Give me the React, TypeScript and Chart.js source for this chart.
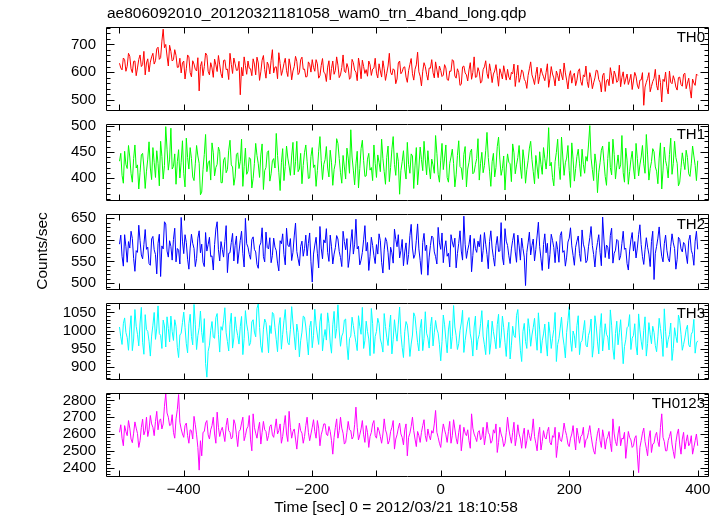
import React, { useEffect, useRef } from 'react';
import { Chart, registerables } from 'chart.js';
Chart.register(...registerables);

const TITLE = 'ae806092010_20120321181058_wam0_trn_4band_long.qdp';
const X_TITLE = 'Time [sec] 0 = 2012/03/21 18:10:58';
const Y_TITLE = 'Counts/sec';

const T_START = -500;
const T_END = 400;
const X_MIN = -521;
const X_MAX = 416;
const X_TICK_MARKS = [-500, -400, -300, -200, -100, 0, 100, 200, 300, 400];
const X_TICK_LABELS = [-400, -200, 0, 200, 400];

const TH0 = [
  632, 615, 608, 651, 645, 603, 621, 668, 657, 612, 598, 639, 640, 587, 615, 646, 662, 620, 627, 675, 590, 633, 648, 601, 636, 655,
  668, 629, 641, 684, 690, 646, 652, 712, 755, 688, 700, 658, 622, 697, 675, 640, 645, 681, 660, 617,
  618, 650, 597, 633, 640, 575, 612, 662, 655, 598, 583, 641, 629, 610, 604, 652, 532, 621, 638, 587, 620, 669, 661, 603, 590, 634, 615, 581, 647, 626,
  602, 660, 626, 594, 579, 642, 644, 609, 611, 573, 668, 628, 595, 651, 630, 606, 607, 639, 518, 617, 586, 655, 623, 592, 640, 614,
  612, 587, 648, 629, 590, 654, 633, 570, 601, 643, 660, 609, 578, 636, 625, 593, 642, 681, 597, 618, 619, 576, 670, 631, 588, 607, 631, 650, 605, 584,
  648, 622, 572, 604, 620, 657, 639, 591, 598, 645, 654, 610, 611, 582, 584, 637, 628, 600, 645, 617,
  603, 645, 630, 578, 587, 624, 649, 599, 595, 566, 618, 641, 572, 613, 640, 592, 606, 655, 625, 580, 590, 617, 662, 603, 598, 631, 615, 574, 581, 646,
  634, 607, 600, 569, 651, 622, 576, 643, 620, 595, 609, 585, 640, 627, 588, 611, 614, 650, 596, 579,
  630, 604, 582, 641, 612, 570, 596, 622, 668, 599, 590, 612, 607, 558, 575, 633, 640, 594, 601, 617, 619, 582, 563, 605, 628, 649, 594, 571, 610, 626,
  672, 601, 585, 550, 603, 634, 620, 592, 571, 615, 614, 645, 598, 579, 637, 608, 580, 622, 606, 584,
  589, 627, 615, 573, 570, 604, 603, 645, 640, 586, 578, 612, 598, 552, 556, 619, 622, 597, 590, 568, 608, 634, 574, 599, 655, 581, 583, 616, 601, 560,
  567, 609, 619, 641, 595, 577, 630, 602, 562, 593, 604, 627, 588, 549, 612, 596, 575, 623, 597, 571,
  610, 582, 572, 599, 594, 629, 548, 587, 625, 563, 580, 608, 601, 574, 566, 541, 588, 612, 637, 590, 575, 555, 592, 618, 558, 583, 614, 596, 583, 569,
  599, 630, 545, 577, 620, 593, 579, 550, 604, 588, 568, 611, 590, 572, 633, 597, 571, 539, 586, 605,
  560, 587, 596, 551, 571, 603, 612, 566, 552, 590, 583, 622, 566, 544, 598, 579, 540, 561, 579, 607, 605, 573, 563, 528, 588, 596, 530, 570, 574, 551,
  616, 589, 558, 604, 590, 563, 569, 625, 547, 581, 601, 556, 575, 593, 555, 571, 592, 537, 568, 599,
  585, 553, 540, 571, 572, 598, 480, 546, 563, 577, 598, 529, 548, 566, 577, 610, 552, 535, 590, 562, 492, 574, 566, 600, 545, 521, 604, 563, 558, 587,
  571, 546, 535, 580, 582, 555, 549, 592, 596, 540, 560, 578, 538, 506, 575, 561, 552, 593, 588,
];

const TH1 = [
  432, 447, 405, 390, 451, 426, 418, 462, 440, 408, 392, 437, 463, 419, 425, 379, 410, 444, 447, 421, 380, 413, 436, 469, 419, 397, 458, 430, 401, 452, 428, 385, 470, 441, 398, 424, 498, 455, 415, 436,
  495, 417, 422, 446, 388, 431, 454, 400, 430, 471, 409, 383, 476, 439, 417, 458, 437, 402, 395, 427, 462, 442, 428, 368, 373, 416, 445, 483, 412, 429, 433, 396, 467, 448, 404, 420, 426, 459, 450, 391,
  391, 434, 439, 410, 416, 453, 472, 425, 421, 386, 402, 445, 448, 418, 431, 474, 384, 422, 457, 407, 413, 439, 436, 381, 399, 428, 466, 443, 427, 401, 444, 465, 378, 414, 420, 449, 452, 394, 408, 433,
  437, 419, 485, 443, 411, 376, 429, 456, 395, 422, 461, 438, 423, 405, 442, 468, 406, 431, 470, 412, 417, 447, 389, 424, 449, 463, 432, 399, 400, 441, 458, 420, 425, 384, 414, 451, 479, 433, 397, 426,
  435, 460, 419, 402, 453, 429, 386, 416, 428, 475, 466, 437, 410, 390, 443, 421, 398, 457, 438, 409, 492, 440, 415, 387, 427, 451, 381, 418, 456, 472, 433, 403, 404, 436, 447, 415, 420, 395, 463, 428,
  401, 444, 430, 412, 474, 437, 412, 388, 439, 461, 393, 420, 455, 479, 426, 405, 448, 432, 369, 414, 431, 452, 417, 398, 468, 426, 409, 446, 442, 380, 423, 458, 387, 419, 459, 435, 414, 470, 436, 406,
  452, 421, 398, 436, 425, 409, 481, 447, 407, 392, 434, 466, 416, 438, 463, 401, 392, 428, 440, 455, 428, 383, 406, 443, 471, 422, 419, 397, 445, 460, 383, 417, 430, 449, 455, 408, 411, 426, 437, 475,
  396, 428, 449, 410, 424, 452, 487, 439, 413, 384, 431, 447, 402, 420, 460, 478, 436, 405, 418, 442, 377, 419, 446, 430, 427, 393, 465, 448, 408, 425, 439, 462, 421, 399, 454, 434, 390, 416, 433, 457,
  470, 435, 412, 389, 443, 421, 399, 450, 426, 407, 458, 437, 417, 444, 496, 423, 430, 401, 385, 431, 449, 474, 422, 397, 478, 440, 405, 429, 438, 462, 414, 382, 467, 436, 394, 418, 441, 455, 427, 403,
  455, 426, 409, 441, 432, 463, 500, 438, 416, 395, 446, 427, 372, 411, 429, 453, 461, 432, 403, 386, 437, 469, 420, 406, 474, 445, 398, 423, 444, 417, 425, 481, 410, 392, 457, 434, 388, 412, 435, 451,
  419, 398, 466, 437, 404, 425, 440, 462, 427, 409, 483, 444, 396, 418, 431, 456, 450, 421, 413, 389, 438, 467, 379, 415, 459, 433, 422, 400, 445, 476, 407, 428, 470, 439, 428, 385, 392, 420, 448, 431,
  416, 453, 439, 408, 403, 427, 461, 442, 424, 395, 433,
];

const TH2 = [
  590, 611, 562, 539, 612, 584, 548, 596, 581, 620, 603, 557, 527, 575, 571, 634, 598, 565, 556, 589, 624, 578, 583, 545, 541, 602, 608, 577, 566, 521, 592, 613, 515, 586, 579, 642, 637, 574, 560, 598,
  585, 553, 601, 627, 549, 580, 576, 544, 652, 597, 568, 612, 594, 555, 532, 581, 613, 592, 580, 538, 557, 604, 621, 570, 590, 548, 538, 617, 574, 589, 606, 561, 563, 530, 589, 625, 642, 577, 551, 596,
  578, 560, 596, 633, 524, 569, 570, 594, 615, 551, 587, 609, 545, 572, 599, 620, 568, 537, 650, 591, 583, 566, 555, 601, 607, 578, 572, 543, 534, 586, 593, 628, 561, 549, 618, 582, 579, 605, 547, 564,
  604, 583, 575, 546, 528, 598, 591, 614, 566, 542, 627, 588, 584, 603, 552, 571, 609, 639, 573, 556, 540, 585, 597, 562, 580, 611, 563, 592, 616, 549, 502, 567, 588, 606, 569, 535, 631, 581, 556, 600,
  593, 626, 571, 550, 611, 584, 544, 567, 582, 610, 602, 573, 559, 538, 620, 596, 577, 603, 536, 558, 595, 624, 567, 590, 648, 579, 585, 542, 553, 571, 600, 633, 574, 594, 529, 562, 606, 587, 563, 545,
  589, 567, 614, 598, 548, 523, 577, 605, 596, 570, 531, 583, 570, 546, 625, 601, 584, 612, 558, 575, 601, 540, 572, 593, 543, 566, 610, 636, 581, 557, 566, 599, 637, 579, 552, 520, 594, 615, 575, 588,
  518, 560, 587, 609, 605, 572, 561, 544, 629, 593, 578, 616, 547, 581, 598, 562, 569, 537, 612, 595, 583, 604, 535, 568, 592, 621, 574, 553, 655, 590, 557, 576, 590, 611, 526, 564, 603, 580, 571, 597,
  584, 612, 549, 575, 617, 590, 566, 533, 596, 621, 581, 559, 539, 587, 608, 573, 574, 640, 560, 542, 626, 597, 587, 563, 545, 579, 599, 615, 572, 548, 611, 586, 553, 604, 580, 560, 494, 571, 593, 618,
  565, 587, 602, 551, 578, 609, 641, 584, 556, 529, 589, 614, 570, 592, 533, 566, 613, 599, 582, 547, 596, 577, 548, 610, 619, 571, 575, 539, 560, 595, 604, 628, 586, 564, 541, 583, 597, 609, 568, 550,
  623, 590, 579, 547, 552, 584, 605, 631, 587, 566, 537, 575, 594, 612, 571, 540, 653, 602, 559, 588, 583, 556, 610, 627, 546, 569, 576, 601, 598, 553, 563, 592, 620, 578, 581, 545, 530, 574, 600, 617,
  574, 596, 558, 581, 612, 635, 589, 561, 543, 577, 605, 583, 567, 538, 596, 620, 508, 569, 585, 604, 630, 588, 562, 549, 591, 611, 576, 557, 549, 585, 614, 593, 580, 532, 555, 606, 601, 579, 572, 594,
  589, 565, 545, 598, 611, 576, 566, 541, 597, 620, 578,
];

const TH3 = [
  1010, 983, 962, 1019, 1035, 995, 981, 946, 1002, 1041, 945, 977, 1058, 1012, 990, 958, 1021, 1064, 968, 935, 1044, 1003, 998, 971, 930, 985, 1015, 1050, 976, 1007, 1068, 992, 987, 951, 1029, 1013, 955, 1038, 1006, 969,
  1040, 997, 973, 1030, 1012, 954, 926, 988, 993, 1022, 1051, 1009, 964, 939, 1019, 1045, 984, 961, 1072, 1016, 948, 986, 1008, 1054, 995, 967, 1033, 910, 872, 943, 960, 1001, 1025, 982, 979, 1036, 1047, 990, 941, 1011,
  1001, 1027, 1063, 994, 970, 944, 1017, 1048, 952, 980, 1038, 1005, 986, 963, 1011, 1039, 934, 978, 1055, 1018, 997, 959, 967, 1024, 1030, 996, 983, 1061, 1074, 1009, 958, 940, 1004, 1032, 1022, 985, 939, 1014, 992, 1050,
  1045, 1008, 975, 942, 1013, 1036, 949, 990, 1027, 1058, 1000, 967, 961, 1003, 1066, 1021, 985, 947, 1018, 995, 928, 972, 996, 1040, 1037, 1010, 971, 933, 1009, 1026, 953, 987, 1059, 1015, 988, 962, 1024, 1047, 944, 981,
  1003, 974, 1049, 1020, 966, 938, 1016, 1053, 979, 1006, 1071, 999, 957, 985, 994, 1029, 1032, 960, 920, 978, 985, 1037, 1014, 989, 968, 945, 1041, 1012, 990, 1064, 951, 973, 1026, 998, 977, 931, 1061, 1019, 937, 984,
  998, 1034, 1020, 977, 963, 941, 1047, 1011, 982, 959, 1008, 1043, 936, 975, 1030, 996, 971, 1018, 1065, 990, 954, 926, 997, 1025, 1015, 980, 929, 963, 988, 1049, 1039, 1001, 967, 944, 1006, 1031, 945, 978, 1052, 993,
  980, 952, 1011, 1037, 958, 994, 1028, 1004, 993, 961, 917, 970, 1043, 1016, 975, 939, 1002, 1027, 950, 984, 1069, 1010, 986, 948, 964, 1000, 1021, 1056, 940, 973, 999, 1024, 1036, 991, 972, 930, 1010, 1040, 947, 976,
  989, 1019, 1055, 985, 961, 934, 1004, 1029, 935, 966, 1026, 997, 976, 950, 1017, 1045, 953, 982, 1040, 1008, 968, 929, 994, 1023, 922, 960, 1012, 987, 981, 1042, 1058, 996, 946, 915, 998, 1020, 970, 951, 1033, 1005,
  957, 988, 1009, 1034, 983, 946, 1049, 1002, 938, 972, 991, 1018, 966, 930, 1024, 993, 951, 979, 1003, 1050, 915, 962, 978, 1007, 1037, 985, 960, 925, 995, 1028, 1066, 974, 943, 999, 986, 953, 1014, 1041, 934, 968,
  973, 1001, 1028, 960, 955, 987, 999, 1032, 927, 958, 1041, 1013, 969, 936, 1006, 1047, 944, 980, 1019, 990, 982, 947, 1057, 1015, 950, 921, 992, 1026, 961, 994, 1030, 971, 909, 956, 975, 1008, 1012, 1044, 948, 979,
  987, 1019, 958, 933, 1046, 1002, 971, 948, 1001, 1038, 930, 965, 1022, 990, 964, 1012, 995, 959, 942, 983, 1034, 1006, 976, 929, 1060, 997, 953, 975, 989, 1021, 918, 951, 1008, 984, 967, 1043, 1027, 990, 946, 962,
  980, 1003, 1015, 961, 955, 990, 997, 1031, 938, 966, 972,
];

const TH0123 = [
  2610, 2655, 2575, 2530, 2650, 2615, 2590, 2680, 2635, 2570, 2548, 2605, 2672, 2635, 2603, 2520, 2560, 2640, 2688, 2595, 2620, 2700, 2585, 2625, 2710, 2660, 2640, 2590, 2675, 2735, 2625, 2680, 2690, 2630, 2660, 2765, 2840, 2725, 2700, 2650,
  2655, 2715, 2610, 2575, 2690, 2745, 2835, 2670, 2630, 2600, 2580, 2650, 2665, 2590, 2545, 2625, 2620, 2570, 2705, 2655, 2595, 2520, 2385, 2560, 2470, 2610, 2615, 2665, 2680, 2595, 2570, 2625, 2650, 2700, 2600, 2545, 2730, 2640, 2585, 2620,
  2640, 2600, 2555, 2650, 2695, 2620, 2610, 2570, 2580, 2685, 2660, 2595, 2525, 2615, 2625, 2665, 2700, 2560, 2590, 2630, 2645, 2710, 2565, 2500, 2720, 2640, 2605, 2575, 2630, 2670, 2540, 2610, 2675, 2625, 2615, 2560, 2590, 2645, 2655, 2595,
  2580, 2635, 2690, 2600, 2620, 2660, 2545, 2585, 2650, 2710, 2600, 2555, 2735, 2640, 2575, 2615, 2630, 2570, 2510, 2595, 2665, 2620, 2605, 2545, 2585, 2650, 2700, 2610, 2560, 2600, 2640, 2685, 2615, 2575, 2680, 2635, 2530, 2595, 2625, 2660,
  2660, 2600, 2590, 2645, 2615, 2560, 2480, 2580, 2640, 2690, 2575, 2620, 2700, 2635, 2605, 2540, 2550, 2610, 2675, 2625, 2620, 2570, 2585, 2655, 2760, 2640, 2565, 2595, 2630, 2680, 2595, 2550, 2650, 2610, 2520, 2585, 2610, 2660, 2680, 2590,
  2575, 2640, 2620, 2585, 2545, 2600, 2690, 2625, 2600, 2540, 2560, 2615, 2640, 2680, 2510, 2570, 2595, 2635, 2665, 2600, 2580, 2535, 2625, 2660, 2470, 2580, 2605, 2645, 2700, 2620, 2570, 2525, 2615, 2590, 2550, 2610, 2650, 2685, 2590, 2555,
  2630, 2590, 2565, 2620, 2605, 2660, 2740, 2610, 2580, 2545, 2520, 2600, 2660, 2625, 2595, 2550, 2615, 2675, 2545, 2590, 2685, 2630, 2575, 2540, 2610, 2655, 2500, 2570, 2640, 2605, 2590, 2625, 2560, 2515, 2720, 2635, 2600, 2580, 2555, 2610,
  2620, 2565, 2580, 2640, 2535, 2590, 2670, 2610, 2595, 2545, 2560, 2625, 2605, 2660, 2490, 2550, 2640, 2600, 2575, 2525, 2545, 2610, 2700, 2630, 2585, 2545, 2610, 2670, 2530, 2580, 2655, 2600, 2570, 2515, 2595, 2635, 2515, 2560, 2625, 2590,
  2560, 2610, 2690, 2585, 2545, 2500, 2595, 2640, 2505, 2555, 2620, 2580, 2570, 2615, 2640, 2550, 2535, 2590, 2580, 2640, 2460, 2530, 2610, 2565, 2555, 2600, 2665, 2620, 2590, 2540, 2525, 2575, 2600, 2650, 2570, 2505, 2635, 2590, 2545, 2585,
  2595, 2640, 2520, 2565, 2575, 2610, 2650, 2590, 2540, 2500, 2480, 2555, 2605, 2635, 2560, 2520, 2625, 2580, 2510, 2565, 2585, 2615, 2545, 2495, 2690, 2600, 2555, 2530, 2600, 2645, 2530, 2575, 2570, 2610, 2455, 2535, 2615, 2580, 2565, 2520,
  2530, 2575, 2590, 2480, 2370, 2520, 2560, 2605, 2635, 2555, 2515, 2470, 2575, 2620, 2490, 2540, 2545, 2590, 2610, 2555, 2525, 2640, 2720, 2580, 2555, 2500, 2500, 2560, 2585, 2615, 2540, 2495, 2455, 2550, 2600, 2630, 2535, 2480, 2570, 2610,
  2510, 2555, 2595, 2530, 2545, 2590, 2480, 2520, 2560, 2600, 2530,
];

const SERIES = [TH0, TH1, TH2, TH3, TH0123];
const PANEL_NAMES = ['TH0', 'TH1', 'TH2', 'TH3', 'TH0123'];
const PANEL_COLORS = ['#ff0000', '#00ff00', '#0000ff', '#00ffff', '#ff00ff'];
const PANEL_MIN = [463, 358, 486, 867, 2350];
const PANEL_MAX = [763, 503, 660, 1076, 2844];
const PANEL_LABELS = [
  [500, 600, 700],
  [400, 450, 500],
  [500, 550, 600, 650],
  [900, 950, 1000, 1050],
  [2400, 2500, 2600, 2700, 2800],
];
const PANEL_MINOR = [20, 10, 10, 10, 20];

// layout (pixels)
const W = 724;
const H = 516;
const PLOT_L = 106;
const PLOT_R = 708;
const BOUNDS = [27, 117, 207, 296, 386, 476];
const PAD = 12;
const FONT = "'Liberation Sans', Arial, Helvetica, sans-serif";

function fmt(v: number): string {
  return v < 0 ? '\u2212' + Math.abs(v) : String(v);
}

function geom(i: number) {
  const top = i === 0 ? 0 : BOUNDS[i] - PAD;
  const bottom = i === 4 ? H : BOUNDS[i + 1] + PAD;
  return {
    top,
    h: bottom - top,
    padTop: BOUNDS[i] - top,
    padBottom: i === 4 ? 0 : bottom - BOUNDS[i + 1],
  };
}

function framePlugin(i: number, canvasTop: number) {
  return {
    id: 'frame' + i,
    afterDraw(chart: any) {
      const { ctx, chartArea: a, scales } = chart;
      const xs = scales.x;
      const ys = scales.y;
      const L = Math.round(a.left) + 0.5;
      const R = Math.round(a.right) + 0.5;
      const T = Math.round(a.top) + 0.5;
      const B = Math.round(a.bottom) + 0.5;
      ctx.save();
      ctx.strokeStyle = '#000';
      ctx.lineWidth = 1;
      ctx.beginPath();
      ctx.rect(L, T, R - L, B - T);
      X_TICK_MARKS.forEach((v) => {
        const px = Math.round(xs.getPixelForValue(v)) + 0.5;
        ctx.moveTo(px, T);
        ctx.lineTo(px, T + 6);
        ctx.moveTo(px, B);
        ctx.lineTo(px, B - 6);
      });
      const minor = PANEL_MINOR[i];
      const majors = PANEL_LABELS[i];
      for (let v = Math.ceil(PANEL_MIN[i] / minor) * minor; v <= PANEL_MAX[i]; v += minor) {
        const py = Math.round(ys.getPixelForValue(v)) + 0.5;
        const len = majors.includes(v) ? 8 : 4;
        ctx.moveTo(L, py);
        ctx.lineTo(L + len, py);
        ctx.moveTo(R, py);
        ctx.lineTo(R - len, py);
      }
      ctx.stroke();

      ctx.fillStyle = '#000';
      ctx.font = `15px ${FONT}`;
      ctx.textAlign = 'right';
      ctx.textBaseline = 'middle';
      ctx.fillText(PANEL_NAMES[i], 705, a.top + 10.5);

      if (i === 0) {
        ctx.font = `15.5px ${FONT}`;
        ctx.textAlign = 'left';
        ctx.fillText(TITLE, 107, 14 - canvasTop);
      }
      if (i === 2) {
        ctx.save();
        ctx.font = `15.5px ${FONT}`;
        ctx.textAlign = 'center';
        ctx.translate(43, 251 - canvasTop);
        ctx.rotate(-Math.PI / 2);
        ctx.fillText(Y_TITLE, 0, 0);
        ctx.restore();
      }
      if (i === 4) {
        ctx.font = `15.5px ${FONT}`;
        ctx.textAlign = 'center';
        ctx.fillText(X_TITLE, 396, 508 - canvasTop);
      }
      ctx.restore();
    },
  };
}

function Panel({ index }: { index: number }) {
  const ref = useRef<HTMLCanvasElement>(null);
  const g = geom(index);
  useEffect(() => {
    const canvas = ref.current;
    if (!canvas) return;
    const isLast = index === 4;
    const values = SERIES[index];
    const step = (T_END - T_START) / (values.length - 1);
    const chart = new Chart(canvas, {
      type: 'line',
      data: {
        datasets: [
          {
            data: values.map((v, k) => ({ x: T_START + k * step, y: v })),
            borderColor: PANEL_COLORS[index],
            borderWidth: 1,
            pointRadius: 0,
            tension: 0,
            fill: false,
          },
        ],
      },
      options: {
        animation: false,
        responsive: false,
        maintainAspectRatio: false,
        devicePixelRatio: 1,
        events: [],
        layout: {
          padding: { left: 0, right: W - PLOT_R, top: g.padTop, bottom: g.padBottom },
        },
        plugins: {
          legend: { display: false },
          tooltip: { enabled: false },
          title: { display: false },
        },
        scales: {
          x: {
            type: 'linear',
            min: X_MIN,
            max: X_MAX,
            display: isLast,
            grid: { display: false, drawTicks: false },
            border: { display: false },
            afterBuildTicks: (s: any) => {
              s.ticks = X_TICK_LABELS.map((v) => ({ value: v }));
            },
            afterFit: (s: any) => {
              s.height = isLast ? H - BOUNDS[5] : 0;
            },
            ticks: {
              autoSkip: false,
              maxRotation: 0,
              minRotation: 0,
              padding: 5,
              color: '#000',
              font: { family: FONT, size: 15 },
              callback: (v: any) => fmt(Number(v)),
            },
          },
          y: {
            type: 'linear',
            min: PANEL_MIN[index],
            max: PANEL_MAX[index],
            grid: { display: false, drawTicks: false },
            border: { display: false },
            afterBuildTicks: (s: any) => {
              s.ticks = PANEL_LABELS[index].map((v) => ({ value: v }));
            },
            afterFit: (s: any) => {
              s.width = PLOT_L;
            },
            ticks: {
              autoSkip: false,
              padding: 10,
              color: '#000',
              font: { family: FONT, size: 15 },
              callback: (v: any) => String(v),
            },
          },
        },
      },
      plugins: [framePlugin(index, g.top)],
    } as any);
    return () => chart.destroy();
  }, [index]);
  return (
    <canvas
      ref={ref}
      width={W}
      height={g.h}
      style={{ position: 'absolute', left: 0, top: g.top, width: W, height: g.h, display: 'block' }}
    />
  );
}

export default function App() {
  return (
    <div style={{ position: 'fixed', left: 0, top: 0, width: W, height: H, background: '#fff' }}>
      {PANEL_NAMES.map((_, i) => (
        <Panel key={i} index={i} />
      ))}
    </div>
  );
}
